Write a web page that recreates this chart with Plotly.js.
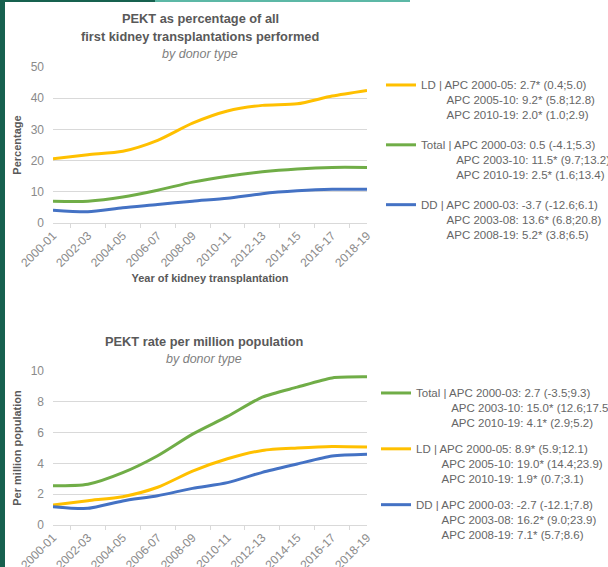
<!DOCTYPE html>
<html>
<head>
<meta charset="utf-8">
<script src="https://cdn.plot.ly/plotly-3.0.1.min.js"></script>
<style>
html,body{margin:0;padding:0;background:#fff;}
#chart{width:608px;height:567px;}
</style>
</head>
<body>
<div id="chart"></div>
<script>
// ---- data ----
const years = ['2000-01','2002-03','2004-05','2006-07','2008-09','2010-11','2012-13','2014-15','2016-17','2018-19'];

// Chart 1: PEKT as percentage of all first kidney transplantations
const pctLD    = [20.6, 21.9, 23.0, 26.5, 32.0, 35.9, 37.7, 38.2, 40.7, 42.5];
const pctTotal = [7.0, 7.0, 8.3, 10.5, 13.1, 15.0, 16.4, 17.3, 17.8, 17.8];
const pctDD    = [4.1, 3.6, 4.9, 5.9, 7.0, 7.9, 9.4, 10.3, 10.8, 10.8];

// Chart 2: PEKT rate per million population
const pmpTotal = [2.55, 2.65, 3.4, 4.5, 5.9, 7.05, 8.3, 8.95, 9.55, 9.62];
const pmpLD    = [1.3, 1.58, 1.84, 2.45, 3.5, 4.3, 4.84, 5.0, 5.1, 5.06];
const pmpDD    = [1.19, 1.08, 1.56, 1.9, 2.38, 2.75, 3.42, 3.96, 4.48, 4.6];

// Legend labels (APC text)
const pctLabels = {
  LD:    ['LD | ', 'APC 2000-05: 2.7* (0.4;5.0)', 'APC 2005-10: 9.2* (5.8;12.8)', 'APC 2010-19: 2.0* (1.0;2.9)'],
  Total: ['Total | ', 'APC 2000-03: 0.5 (-4.1;5.3)', 'APC 2003-10: 11.5* (9.7;13.2)', 'APC 2010-19: 2.5* (1.6;13.4)'],
  DD:    ['DD | ', 'APC 2000-03: -3.7 (-12.6;6.1)', 'APC 2003-08: 13.6* (6.8;20.8)', 'APC 2008-19: 5.2* (3.8;6.5)']
};
const pmpLabels = {
  Total: ['Total | ', 'APC 2000-03: 2.7 (-3.5;9.3)', 'APC 2003-10: 15.0* (12.6;17.5)', 'APC 2010-19: 4.1* (2.9;5.2)'],
  LD:    ['LD | ', 'APC 2000-05: 8.9* (5.9;12.1)', 'APC 2005-10: 19.0* (14.4;23.9)', 'APC 2010-19: 1.9* (0.7;3.1)'],
  DD:    ['DD | ', 'APC 2000-03: -2.7 (-12.1;7.8)', 'APC 2003-08: 16.2* (9.0;23.9)', 'APC 2008-19: 7.1* (5.7;8.6)']
};

const colors = {LD: '#FFC000', Total: '#70AD47', DD: '#4472C4'};
const padCount = {LD: 8, Total: 11, DD: 8};

// ---- helpers ----
const W = 608, H = 567;
const px = v => v / W;
const py = v => 1 - v / H;

function legendText(lbl, key) {
  const pad = '\u00a0'.repeat(padCount[key]);
  return lbl[0] + lbl[1] + '<br>' + pad + lbl[2] + '<br>' + pad + lbl[3];
}

function mkTrace(key, y, lbl, xa, ya, leg) {
  return {
    type: 'scatter', mode: 'lines', x: years, y: y,
    xaxis: xa, yaxis: ya, legend: leg,
    name: legendText(lbl, key), legendgroup: leg + key,
    line: {color: colors[key], width: 3, shape: 'spline', smoothing: 0.7},
    hoverinfo: 'x+y'
  };
}

const traces = [
  mkTrace('LD', pctLD, pctLabels.LD, 'x', 'y', 'legend'),
  mkTrace('Total', pctTotal, pctLabels.Total, 'x', 'y', 'legend'),
  mkTrace('DD', pctDD, pctLabels.DD, 'x', 'y', 'legend'),
  mkTrace('Total', pmpTotal, pmpLabels.Total, 'x2', 'y2', 'legend2'),
  mkTrace('LD', pmpLD, pmpLabels.LD, 'x2', 'y2', 'legend2'),
  mkTrace('DD', pmpDD, pmpLabels.DD, 'x2', 'y2', 'legend2')
];

const tickFont = {family: 'Liberation Sans, Arial, sans-serif', size: 12, color: '#8a8a8a'};
const axTitleFont = {family: 'Liberation Sans, Arial, sans-serif', size: 11, color: '#595959', weight: 'bold'};
const legFont = {family: 'Liberation Sans, Arial, sans-serif', size: 11.5, color: '#666666'};

function xAxis(anchor, title) {
  const a = {
    type: 'category', domain: [px(53), px(367)], anchor: anchor,
    showgrid: false, showline: true, linecolor: '#d9d9d9', linewidth: 1,
    ticks: 'outside', tickson: 'boundaries', ticklen: 4, tickcolor: '#d9d9d9',
    tickangle: -45, tickfont: tickFont, zeroline: false, fixedrange: true, automargin: false
  };
  if (title) a.title = {text: title, font: axTitleFont};
  return a;
}
function yAxis(anchor, domain, range, dtick, title) {
  return {
    domain: domain, anchor: anchor, range: range, dtick: dtick,
    showgrid: true, gridcolor: '#d9d9d9', gridwidth: 1,
    showline: false, zeroline: false, ticks: '', ticklabelstandoff: 8,
    tickfont: tickFont, fixedrange: true, automargin: false,
    title: {text: title, font: axTitleFont}
  };
}

const titleBold = {family: 'Liberation Sans, Arial, sans-serif', size: 12.8, color: '#595959', weight: 'bold'};
const titleItal = {family: 'Liberation Sans, Arial, sans-serif', size: 12.5, color: '#7f7f7f', style: 'italic'};

function ann(text, x, y, font) {
  return {text: text, x: px(x), y: py(y), xref: 'paper', yref: 'paper',
          xanchor: 'center', yanchor: 'middle', showarrow: false, font: font};
}

const layout = {
  width: W, height: H,
  margin: {l: 0, r: 0, t: 0, b: 0, pad: 0, autoexpand: false},
  paper_bgcolor: '#ffffff', plot_bgcolor: '#ffffff',
  showlegend: true,
  xaxis: xAxis('y', 'Year of kidney transplantation'),
  yaxis: yAxis('x', [py(223), py(67)], [0, 50], 10, 'Percentage'),
  xaxis2: xAxis('y2', null),
  yaxis2: yAxis('x2', [py(525), py(371)], [0, 10], 2, 'Per million population'),
  legend: {x: px(381), y: py(71), xanchor: 'left', yanchor: 'top', valign: 'top',
           font: legFont, bgcolor: 'rgba(0,0,0,0)', tracegroupgap: 12, itemclick: false, itemdoubleclick: false},
  legend2: {x: px(376), y: py(379), xanchor: 'left', yanchor: 'top', valign: 'top',
           font: legFont, bgcolor: 'rgba(0,0,0,0)', tracegroupgap: 8, itemclick: false, itemdoubleclick: false},
  annotations: [
    ann('PEKT as percentage of all', 200, 18, titleBold),
    ann('first kidney transplantations performed', 200, 36, titleBold),
    ann('by donor type', 200, 54, titleItal),
    ann('PEKT rate per million population', 204, 341, titleBold),
    ann('by donor type', 204, 359, titleItal)
  ],
  shapes: [
    {type: 'rect', xref: 'paper', yref: 'paper', x0: 0, x1: px(5), y0: 0, y1: 1,
     fillcolor: '#17614f', line: {width: 0}, layer: 'above'},
    {type: 'rect', xref: 'paper', yref: 'paper', x0: 0, x1: px(155), y0: py(2), y1: 1,
     fillcolor: '#17614f', line: {width: 0}, layer: 'above'},
    {type: 'rect', xref: 'paper', yref: 'paper', x0: px(155), x1: px(410), y0: py(2), y1: 1,
     fillcolor: '#5cb8a6', line: {width: 0}, layer: 'above'}
  ]
};

Plotly.newPlot('chart', traces, layout, {displayModeBar: false, staticPlot: true});
</script>
</body>
</html>
